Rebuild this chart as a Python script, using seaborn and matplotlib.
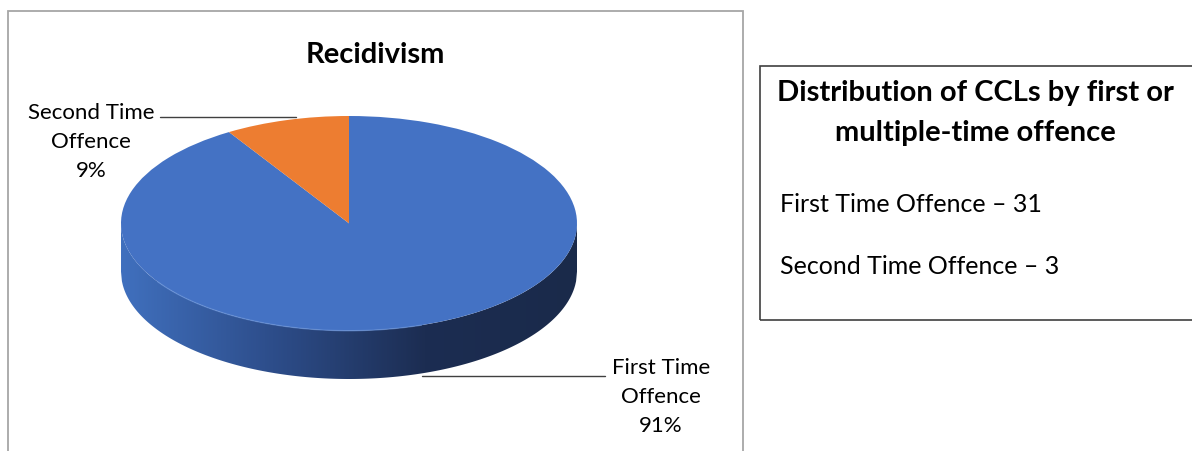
import numpy as np
import matplotlib
matplotlib.use("Agg")
import matplotlib.pyplot as plt
import seaborn as sns
from matplotlib.patches import Rectangle
from matplotlib.lines import Line2D

# data
categories = ['First Time Offence', 'Second Time Offence']
counts = [31, 3]
pie_colors = ['#4472C4', '#ED7D31']
side_colors = ['#4070BE', '#2D4D8A', '#1C2D52', '#1A2A4A']

sns.set_theme(style='white')
plt.rcParams['font.family'] = ['Lato', 'DejaVu Sans']
plt.rcParams['text.color'] = 'black'

W, H = 1192, 452
fig = plt.figure(figsize=(W / 100, H / 100), dpi=100)


def fx(x):
    return x / W


def fy(y):
    return 1 - y / H


# chart frame on the left
fig.patches.append(Rectangle((fx(8), fy(470)), (743 - 8) / W, (470 - 12) / H,
                             transform=fig.transFigure, fill=False,
                             edgecolor='#a6a6a6', lw=1.3))

# pie, squashed into an ellipse
depth = 0.45
ax = fig.add_axes([fx(121), fy(380), (577 - 121) / W, (380 - 117) / H])
wedges, _ = ax.pie(counts, colors=pie_colors, startangle=90, counterclock=False,
                   wedgeprops=dict(linewidth=0))

# side of the disc with a shading gradient
xs = np.linspace(-1, 1, 500)
top = -np.sqrt(1 - xs ** 2)
side = ax.fill_between(xs, top - depth, top, color='none', lw=0)
cmap = sns.blend_palette(side_colors, as_cmap=True)
grad = np.linspace(0, 1, 256).reshape(1, -1)
im = ax.imshow(grad, cmap=cmap, extent=[-1, 1, -1 - depth, 0], aspect='auto', zorder=0)
im.set_clip_path(side.get_paths()[0], transform=ax.transData)
ax.plot(xs[40:330], top[40:330], color='#6590d8', lw=1.0, alpha=0.6)

ax.set_aspect('auto')
ax.set_xlim(-1, 1)
ax.set_ylim(-1 - depth, 1)
ax.axis('off')

total = sum(counts)
pcts = [f"{round(100 * c / total)}%" for c in counts]

fig.text(fx(375), fy(55), 'Recidivism', ha='center', va='center',
         fontsize=21, fontweight='bold')

lab2 = categories[1].replace(' Offence', '\nOffence') + '\n' + pcts[1]
fig.text(fx(91), fy(142), lab2, ha='center', va='center', fontsize=16, linespacing=1.55)
fig.add_artist(Line2D([fx(160), fx(296)], [fy(118), fy(118)],
                      transform=fig.transFigure, color='#404040', lw=1))

lab1 = categories[0].replace(' Offence', '\nOffence') + '\n' + pcts[0]
fig.text(fx(661), fy(397), lab1, ha='center', va='center', fontsize=16, linespacing=1.55)
fig.add_artist(Line2D([fx(422), fx(605)], [fy(377), fy(377)],
                      transform=fig.transFigure, color='#404040', lw=1))

# text box on the right
fig.patches.append(Rectangle((fx(760), fy(321)), (1230 - 760) / W, (321 - 67) / H,
                             transform=fig.transFigure, fill=False,
                             edgecolor='#3f3f3f', lw=1.2))
fig.text(fx(975), fy(113), 'Distribution of CCLs by first or\nmultiple-time offence',
         ha='center', va='center', fontsize=21, fontweight='bold', linespacing=1.62)
fig.text(fx(780), fy(205), f"{categories[0]} \u2013 {counts[0]}", ha='left', va='center', fontsize=18)
fig.text(fx(780), fy(267), f"{categories[1]} \u2013 {counts[1]}", ha='left', va='center', fontsize=18)

fig.savefig('out.png', dpi=100)
